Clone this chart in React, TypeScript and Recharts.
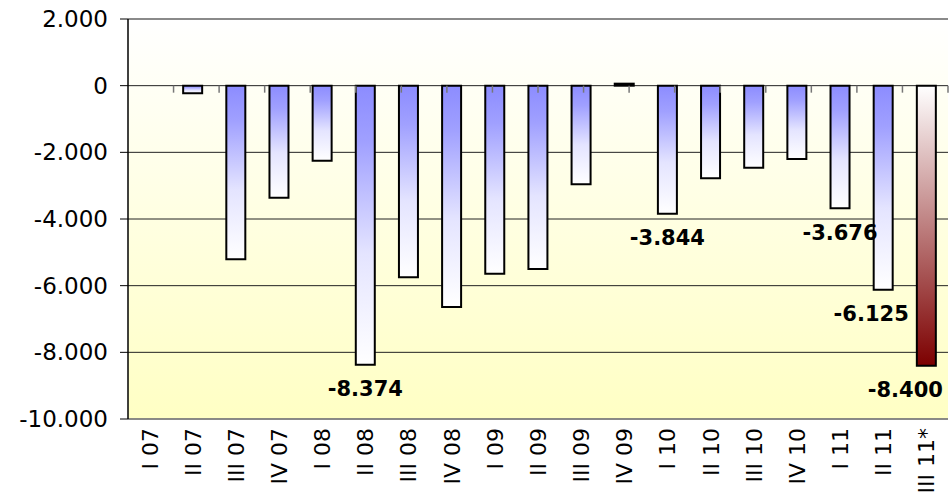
import React from "react";
import {
  BarChart,
  Bar,
  XAxis,
  YAxis,
  CartesianGrid,
  Cell,
  LabelList,
  ReferenceLine,
} from "recharts";

// quarters on the category axis
const quarters = [
  "I 07", "II 07", "III 07", "IV 07",
  "I 08", "II 08", "III 08", "IV 08",
  "I 09", "II 09", "III 09", "IV 09",
  "I 10", "II 10", "III 10", "IV 10",
  "I 11", "II 11", "III 11*",
];

// values
const values = [
  0, -230, -5210, -3360,
  -2250, -8374, -5750, -6640,
  -5640, -5500, -2960, 60,
  -3844, -2780, -2460, -2200,
  -3676, -6125, -8400,
];

const yTicks = [2000, 0, -2000, -4000, -6000, -8000, -10000];
const labeled = ["II 08", "I 10", "I 11", "II 11", "III 11*"];
const projected = "III 11*";

// label nudges so they clear the neighbouring bar
const labelShift: Record<string, number> = { "II 11": -12, "III 11*": -21 };

const data = quarters.map((q, i) => ({ q, v: values[i] }));
const boundaries = quarters.slice(1).map((_, i) => i + 1);

const FONT = "'DejaVu Sans', sans-serif";

const fmt = (n: number) => {
  const s = Math.abs(Math.round(n))
    .toString()
    .replace(/\B(?=(\d{3})+(?!\d))/g, ".");
  return n < 0 ? "-" + s : s;
};

const QuarterTick = (props: any) => {
  const { x, y, payload } = props;
  return (
    <text
      transform={`translate(${x},${y + 1}) rotate(-90)`}
      textAnchor="end"
      dy="0.36em"
      fontSize={22}
      fontFamily={FONT}
      fill="#000"
    >
      {payload.value}
    </text>
  );
};

const ValueLabel = (props: any) => {
  const { x, y, width, height, value } = props;
  const q = quarters[values.indexOf(Number(value))];
  if (!labeled.includes(q)) return null;
  const bottom = Math.max(y, y + height);
  const cx = x + width / 2 + (labelShift[q] || 0);
  return (
    <text
      x={cx}
      y={bottom + 24}
      dy="0.36em"
      textAnchor="middle"
      fontSize={21}
      fontWeight="bold"
      fontFamily={FONT}
      fill="#000"
    >
      {fmt(Number(value))}
    </text>
  );
};

export default function App() {
  return (
    <div style={{ position: "absolute", left: 0, top: 0 }}>
      <BarChart
        width={951}
        height={493}
        data={data}
        margin={{ top: 19, right: 3, bottom: 0, left: 0 }}
      >
        <defs>
          <linearGradient id="bg" x1="0" y1="0" x2="0" y2="1">
            <stop offset="0%" stopColor="#ffffff" />
            <stop offset="100%" stopColor="#ffffc4" />
          </linearGradient>
          <linearGradient id="blue" x1="0" y1="0" x2="0" y2="1">
            <stop offset="0%" stopColor="#8c8cff" />
            <stop offset="20%" stopColor="#a0a0ff" />
            <stop offset="60%" stopColor="#e4e4ff" />
            <stop offset="100%" stopColor="#ffffff" />
          </linearGradient>
          <linearGradient id="red" x1="0" y1="0" x2="0" y2="1">
            <stop offset="0%" stopColor="#ffffff" />
            <stop offset="100%" stopColor="#7c0000" />
          </linearGradient>
        </defs>
        <CartesianGrid
          vertical={false}
          stroke="#222"
          fill="url(#bg)"
          fillOpacity={1}
        />
        <XAxis
          dataKey="q"
          height={74}
          axisLine={false}
          tickLine={false}
          interval={0}
          tick={<QuarterTick />}
        />
        <XAxis xAxisId="num" type="number" domain={[0, 19]} hide />
        <YAxis
          width={128}
          domain={[-10000, 2000]}
          ticks={yTicks}
          interval={0}
          tickFormatter={fmt}
          axisLine={{ stroke: "#000", strokeWidth: 1.5 }}
          tickLine={{ stroke: "#000" }}
          tickSize={8}
          tickMargin={12}
          tick={{ fontSize: 23, fontFamily: FONT, fill: "#000" }}
        />
        <ReferenceLine xAxisId="num" y={2000} stroke="#888" strokeWidth={1.5} />
        <ReferenceLine xAxisId="num" y={-10000} stroke="#888" strokeWidth={1.5} />
        <ReferenceLine xAxisId="num" x={19} stroke="#888" strokeWidth={1.5} />
        {boundaries.map((b) => (
          <ReferenceLine
            key={b}
            xAxisId="num"
            segment={[
              { x: b, y: 0 },
              { x: b, y: -210 },
            ]}
            stroke="#777"
            strokeWidth={1.5}
          />
        ))}
        <Bar
          dataKey="v"
          barSize={19}
          stroke="#000"
          strokeWidth={2}
          isAnimationActive={false}
        >
          {data.map((d) => (
            <Cell
              key={d.q}
              fill={d.q === projected ? "url(#red)" : "url(#blue)"}
            />
          ))}
          <LabelList dataKey="v" content={<ValueLabel />} />
        </Bar>
      </BarChart>
    </div>
  );
}
